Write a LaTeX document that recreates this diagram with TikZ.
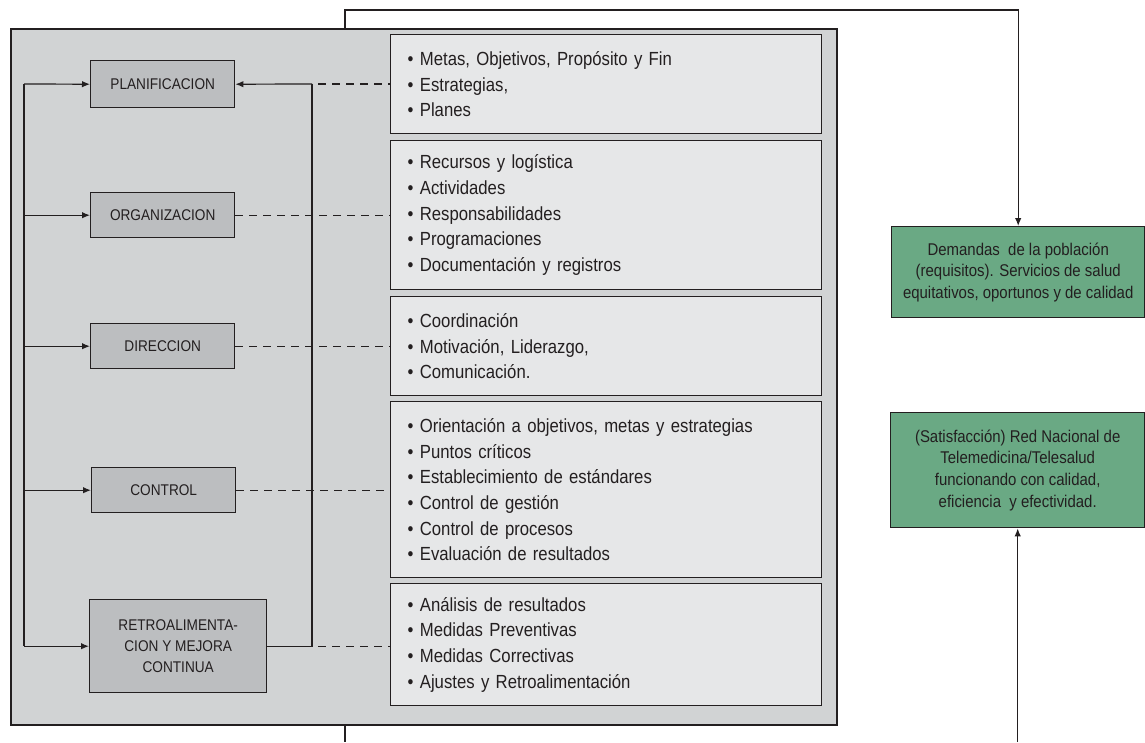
\documentclass[tikz,border=0pt]{standalone}
\usepackage{fontspec}
\setmainfont{Liberation Sans}[FakeStretch=0.88]
\usetikzlibrary{arrows.meta}

\definecolor{ink}{HTML}{231F20}
\definecolor{framegray}{HTML}{D1D3D4}
\definecolor{stagegray}{HTML}{BCBEC0}
\definecolor{detailgray}{HTML}{E6E7E8}
\definecolor{outcome}{HTML}{6AA984}

\begin{document}
\begin{tikzpicture}[x=1pt,y=-1pt,
  outer/.style={draw=ink,line width=1.8pt,fill=framegray,anchor=north west,inner sep=0pt},
  stage/.style={draw=ink,line width=1.4pt,fill=stagegray,anchor=north west,inner sep=0pt,
    align=center,text=ink,font=\fontsize{15.5}{21}\selectfont},
  detail/.style={draw=ink,line width=1.4pt,fill=detailgray,anchor=north west,inner ysep=0pt,
    inner xsep=17pt,text width=397pt,align=left,text=ink,font=\fontsize{19}{25.7}\selectfont},
  result/.style={draw=ink,line width=1.4pt,fill=outcome,anchor=north west,inner sep=0pt,
    align=center,text=ink,font=\fontsize{17}{21.7}\selectfont},
  link/.style={draw=ink,line width=1.2pt},
  feed/.style={link,-{Latex[length=8pt,width=6.5pt]}},
  dashlink/.style={draw=ink,line width=1.2pt,dash pattern=on 8pt off 6pt}]

\useasboundingbox (0,0) rectangle (1145,742);

% management frame
\node[outer,minimum width=826pt,minimum height=696pt] (frame) at (10,28) {};

% management stages
\node[stage,minimum width=144pt,minimum height=47pt] (plan) at (90,60) {PLANIFICACION};
\node[stage,minimum width=144pt,minimum height=45pt] (org) at (90,192) {ORGANIZACION};
\node[stage,minimum width=144pt,minimum height=45pt] (dir) at (90,323) {DIRECCION};
\node[stage,minimum width=144pt,minimum height=45pt] (ctrl) at (91,467) {CONTROL};
\node[stage,minimum width=177pt,minimum height=93pt] (retro) at (89,599)
  {RETROALIMENTA-\\CION Y MEJORA\\CONTINUA};

% contents of each stage
\node[detail,minimum height=99pt] (d1) at (390,34)
  {• Metas, Objetivos, Propósito y Fin\\• Estrategias,\\• Planes};
\node[detail,minimum height=149pt] (d2) at (390,140)
  {• Recursos y logística\\• Actividades\\• Responsabilidades\\• Programaciones\\• Documentación y registros};
\node[detail,minimum height=99pt] (d3) at (390,296)
  {• Coordinación\\• Motivación, Liderazgo,\\• Comunicación.};
\node[detail,minimum height=176pt] (d4) at (390,401)
  {• Orientación a objetivos, metas y estrategias\\• Puntos críticos\\• Establecimiento de estándares\\• Control de gestión\\• Control de procesos\\• Evaluación de resultados};
\node[detail,minimum height=122pt] (d5) at (390,583)
  {• Análisis de resultados\\• Medidas Preventivas\\• Medidas Correctivas\\• Ajustes y Retroalimentación};

% outcomes
\node[result,minimum width=253pt,minimum height=91pt] (dem) at (891,226)
  {Demandas~ de la población\\(requisitos). Servicios de salud\\equitativos, oportunos y de calidad};
\node[result,minimum width=254pt,minimum height=115pt] (sat) at (890,412)
  {(Satisfacción) Red Nacional de\\Telemedicina/Telesalud\\funcionando con calidad,\\eficiencia~ y efectividad.};

% left distribution bus
\coordinate (lt) at (24,84);
\coordinate (lb) at (lt |- retro.west);
\draw[link] (lt) -- (lb);
\draw[feed] (lt) -- (plan.west);
\draw[feed] (lt |- org.west) -- (org.west);
\draw[feed] (lt |- dir.west) -- (dir.west);
\draw[feed] (lt |- ctrl.west) -- (ctrl.west);
\draw[feed] (lb) -- (retro.west);

% feedback return to planning
\coordinate (rt) at (312,84);
\coordinate (rb) at (rt |- retro.east);
\draw[link] (retro.east) -- (rb) -- (rt);
\draw[feed] (rt) -- (plan.east);

% dashed ties to the contents
\draw[dashlink] ([xshift=6pt]rt) -- (d1.west |- rt);
\draw[dashlink] (org.east) -- (d2.west |- org.east);
\draw[dashlink] (dir.east) -- (d3.west |- dir.east);
\draw[dashlink] (ctrl.east) -- (d4.west |- ctrl.east);
\draw[dashlink] ([xshift=6pt]rb) -- (d5.west |- rb);

% links to the outcomes
\coordinate (tap) at (345,28);
\coordinate (turn) at (345,10);
\draw[feed] (tap) -- (turn) -| (dem.north);
\coordinate (bot) at (345,742);
\draw[draw=ink,line width=2.2pt] (tap |- frame.south) -- (bot);
\coordinate (rise) at (sat.south |- bot);
\draw[feed] (rise) -- (sat.south);

\end{tikzpicture}
\end{document}
